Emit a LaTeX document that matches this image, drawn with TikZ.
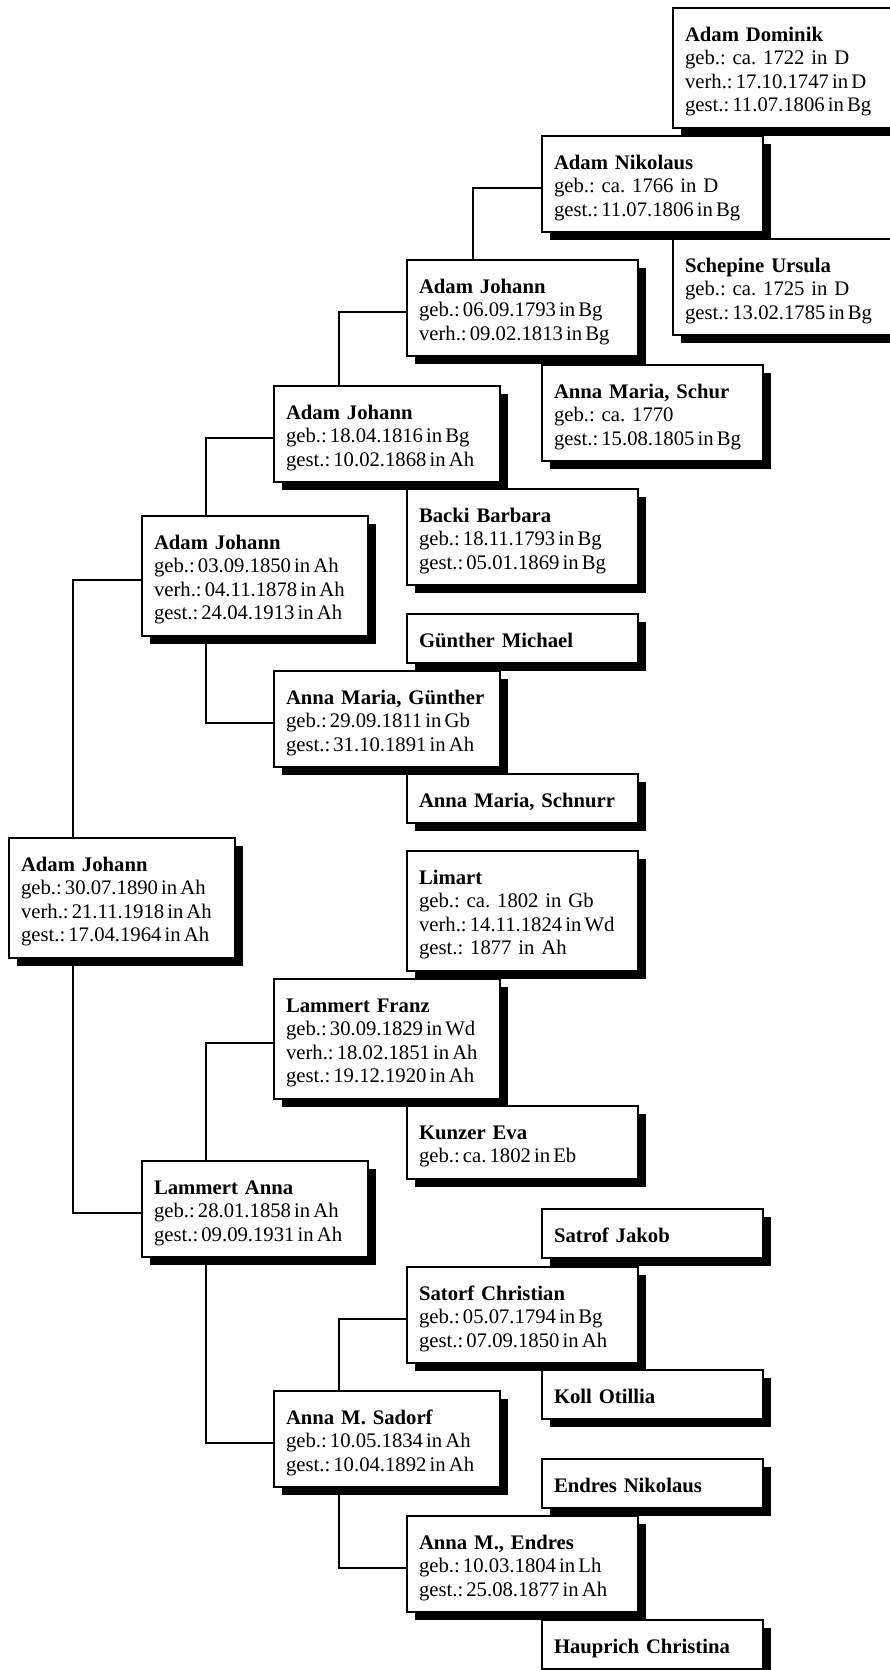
\documentclass[tikz,border=0pt]{standalone}
\usepackage{fontspec}
\setmainfont{Liberation Serif}
\usetikzlibrary{shadows,backgrounds}

% tight word spacing for the date lines
\newcommand\eng[1]{{\spaceskip=.15em\xspaceskip=.15em\relax#1}}

\tikzset{
	person/.style={draw, line width=1pt, fill=white, anchor=north west,
		align=left, text width=101pt, inner xsep=6pt, inner ysep=5pt,
		font=\fontsize{10.35}{11.75}\selectfont\frenchspacing,
		execute at begin node=\rule{0pt}{11.5pt},
		execute at end node=\rule[-3pt]{0pt}{3pt},
		drop shadow={shadow xshift=4pt, shadow yshift=-4pt, opacity=1, fill=black}},
	wide/.style={person, text width=103.5pt},
	narrow/.style={person, text width=98.5pt},
	link/.style={line width=1pt}
}

\begin{document}
\begin{tikzpicture}[x=0.5pt, y=-0.5pt]
	\useasboundingbox (0,0) rectangle (889,1670);

	% generation 0 and 1
	\node[person] (aj0) at (8,837) {\textbf{Adam Johann}\\ \eng{geb.: 30.07.1890 in Ah}\\ \eng{verh.: 21.11.1918 in Ah}\\ \eng{gest.: 17.04.1964 in Ah}};
	\node[person] (aj1) at (141,515) {\textbf{Adam Johann}\\ \eng{geb.: 03.09.1850 in Ah}\\ \eng{verh.: 04.11.1878 in Ah}\\ \eng{gest.: 24.04.1913 in Ah}};
	\node[person] (la1) at (141,1160) {\textbf{Lammert Anna}\\ \eng{geb.: 28.01.1858 in Ah}\\ \eng{gest.: 09.09.1931 in Ah}};

	% generation 2
	\node[person] (aj2) at (273,385) {\textbf{Adam Johann}\\ \eng{geb.: 18.04.1816 in Bg}\\ \eng{gest.: 10.02.1868 in Ah}};
	\node[person] (amg2) at (273,670) {\textbf{Anna Maria, Günther}\\ \eng{geb.: 29.09.1811 in Gb}\\ \eng{gest.: 31.10.1891 in Ah}};
	\node[person] (lf2) at (273,978) {\textbf{Lammert Franz}\\ \eng{geb.: 30.09.1829 in Wd}\\ \eng{verh.: 18.02.1851 in Ah}\\ \eng{gest.: 19.12.1920 in Ah}};
	\node[person] (ams2) at (273,1390) {\textbf{Anna M. Sadorf}\\ \eng{geb.: 10.05.1834 in Ah}\\ \eng{gest.: 10.04.1892 in Ah}};

	% generation 3
	\node[wide] (aj3) at (406,259) {\textbf{Adam Johann}\\ \eng{geb.: 06.09.1793 in Bg}\\ \eng{verh.: 09.02.1813 in Bg}};
	\node[wide] (bb3) at (406,488) {\textbf{Backi Barbara}\\ \eng{geb.: 18.11.1793 in Bg}\\ \eng{gest.: 05.01.1869 in Bg}};
	\foreach \n/\y/\name in {gm3/613/Günther Michael, amsch3/773/{Anna Maria, Schnurr}}
		\node[wide] (\n) at (406,\y) {\textbf{\name}};
	\node[wide] (li3) at (406,850) {\textbf{Limart}\\ geb.: ca. 1802 in Gb\\ \eng{verh.: 14.11.1824 in Wd}\\ gest.: 1877 in Ah};
	\node[wide] (ke3) at (406,1105) {\textbf{Kunzer Eva}\\ \eng{geb.: ca. 1802 in Eb}};
	\node[wide] (sc3) at (406,1266) {\textbf{Satorf Christian}\\ \eng{geb.: 05.07.1794 in Bg}\\ \eng{gest.: 07.09.1850 in Ah}};
	\node[wide] (ame3) at (406,1515) {\textbf{Anna M., Endres}\\ \eng{geb.: 10.03.1804 in Lh}\\ \eng{gest.: 25.08.1877 in Ah}};

	% generation 4
	\node[narrow] (an4) at (541,135) {\textbf{Adam Nikolaus}\\ geb.: ca. 1766 in D\\ \eng{gest.: 11.07.1806 in Bg}};
	\node[narrow] (ams4) at (541,364) {\textbf{Anna Maria, Schur}\\ geb.: ca. 1770\\ \eng{gest.: 15.08.1805 in Bg}};
	\foreach \n/\y/\name in {sj4/1208/Satrof Jakob, ko4/1369/Koll Otillia, en4/1458/Endres Nikolaus, hc4/1619/Hauprich Christina}
		\node[narrow] (\n) at (541,\y) {\textbf{\name}};

	% generation 5
	\node[narrow] (ad5) at (672,7) {\textbf{Adam Dominik}\\ geb.: ca. 1722 in D\\ \eng{verh.: 17.10.1747 in D}\\ \eng{gest.: 11.07.1806 in Bg}};
	\node[narrow] (su5) at (672,238) {\textbf{Schepine Ursula}\\ geb.: ca. 1725 in D\\ \eng{gest.: 13.02.1785 in Bg}};

	% connectors
	\begin{scope}[on background layer]
		\draw[link] ([xshift=32.5pt]aj0.north west) |- ([yshift=-2pt]aj1.west);
		\draw[link] ([xshift=32.5pt]aj0.south west) |- ([yshift=-2pt]la1.west);
		\draw[link] ([xshift=32.5pt]aj1.north west) |- ([yshift=-2pt]aj2.west);
		\draw[link] ([xshift=32.5pt]aj1.south west) |- ([yshift=-2pt]amg2.west);
		\draw[link] ([xshift=33pt]aj2.north west) |- ([yshift=-2pt]aj3.west);
		\draw[link] ([xshift=33.5pt]aj3.north west) |- ([yshift=-2pt]an4.west);
		\draw[link] ([xshift=32.5pt]la1.north west) |- ([yshift=-2pt]lf2.west);
		\draw[link] ([xshift=32.5pt]la1.south west) |- ([yshift=-2pt]ams2.west);
		\draw[link] ([xshift=33pt]ams2.north west) |- ([yshift=-2pt]sc3.west);
		\draw[link] ([xshift=33pt]ams2.south west) |- ([yshift=-2pt]ame3.west);
	\end{scope}
\end{tikzpicture}
\end{document}
